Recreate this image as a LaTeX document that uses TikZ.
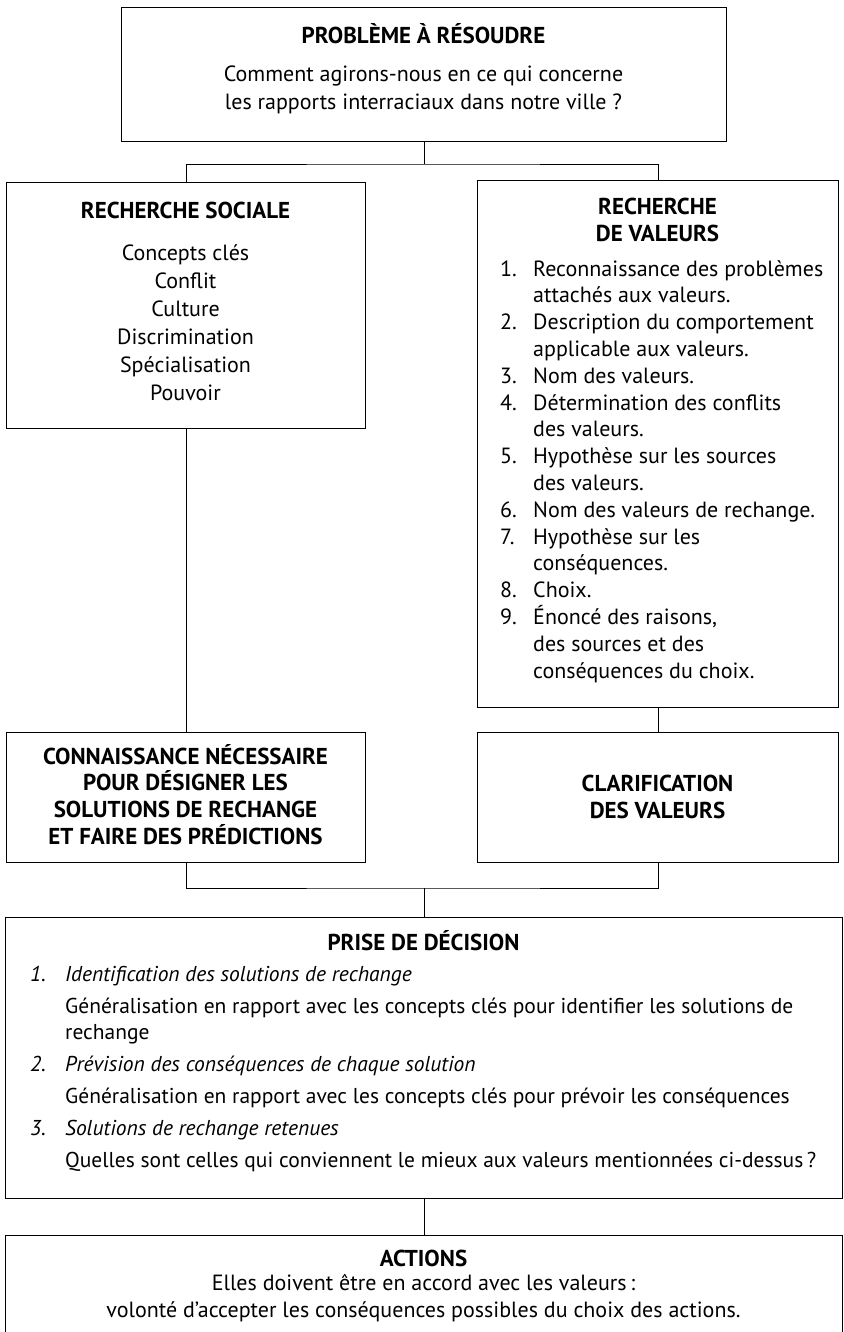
\documentclass[tikz,border=0pt]{standalone}
\usepackage{fontspec}
\setmainfont{PT Sans}
\usetikzlibrary{positioning}

\tikzset{
  boite/.style={draw, line width=1pt, inner sep=0pt, anchor=north west},
  titre/.style={font=\fontsize{23}{27}\selectfont\bfseries, align=center, inner sep=0pt, anchor=north},
  texte/.style={font=\fontsize{22}{28}\selectfont, align=center, inner sep=0pt, anchor=north},
  liste/.style={font=\fontsize{22}{26.8}\selectfont, align=left, inner sep=0pt, anchor=north west},
  lien/.style={line width=0.7pt},
}
\newcommand{\numero}[1]{\makebox[33pt][l]{#1}}
\newcommand{\retrait}{\hspace*{33pt}}

\begin{document}
\begin{tikzpicture}[x=1pt, y=-1pt]
  \clip (0,0) rectangle (843,1332);
  \fill[white] (0,0) rectangle (843,1332);

  % boites
  \node[boite, minimum width=605, minimum height=134] (prob) at (121,7) {};
  \node[boite, minimum width=359, minimum height=246] (soc) at (6,182) {};
  \node[boite, minimum width=361, minimum height=527] (val) at (477,180) {};
  \node[boite, minimum width=359, minimum height=130] (conn) at (6,732) {};
  \node[boite, minimum width=361, minimum height=130] (clar) at (477,732) {};
  \node[boite, minimum width=837, minimum height=281] (dec) at (5,917) {};
  \node[boite, minimum width=837, minimum height=120] (act) at (5,1235) {};

  % textes
  \node[titre] (probtitre) at (423.5,23) {PROBLÈME À RÉSOUDRE};
  \node[texte] (probtexte) at (423.5,65.5) {Comment agirons-nous en ce qui concerne\\les rapports interraciaux dans notre ville ?};

  \node[titre] (soctitre) at (185.5,202) {RECHERCHE SOCIALE};
  \node[texte] (soctexte) at (185.5,244) {Concepts clés\\Conflit\\Culture\\Discrimination\\Spécialisation\\Pouvoir};

  \node[titre] (valtitre) at (657.5,198) {RECHERCHE\\DE VALEURS};
  \node[liste] (valtexte) at (500,260) {%
    \numero{1.}Reconnaissance des problèmes\\
    \retrait attachés aux valeurs.\\
    \numero{2.}Description du comportement\\
    \retrait applicable aux valeurs.\\
    \numero{3.}Nom des valeurs.\\
    \numero{4.}Détermination des conflits\\
    \retrait des valeurs.\\
    \numero{5.}Hypothèse sur les sources\\
    \retrait des valeurs.\\
    \numero{6.}Nom des valeurs de rechange.\\
    \numero{7.}Hypothèse sur les\\
    \retrait conséquences.\\
    \numero{8.}Choix.\\
    \numero{9.}Énoncé des raisons,\\
    \retrait des sources et des\\
    \retrait conséquences du choix.};

  \node[titre, font=\fontsize{23}{26.7}\selectfont\bfseries] (conntexte) at (185.5,744) {CONNAISSANCE NÉCESSAIRE\\POUR DÉSIGNER LES\\SOLUTIONS DE RECHANGE\\ET FAIRE DES PRÉDICTIONS};
  \node[titre] (clartexte) at (657.5,775) {CLARIFICATION\\DES VALEURS};

  \node[titre] (dectitre) at (423.5,930) {PRISE DE DÉCISION};
  \node[liste, font=\fontsize{21.5}{26}\selectfont] (dectexte) at (30,966) {%
    \makebox[35pt][l]{\itshape 1.}\textit{Identification des solutions de rechange}\\[6pt]
    \hspace*{35pt}Généralisation en rapport avec les concepts clés pour identifier les solutions de\\
    \hspace*{35pt}rechange\\[6pt]
    \makebox[35pt][l]{\itshape 2.}\textit{Prévision des conséquences de chaque solution}\\[6pt]
    \hspace*{35pt}Généralisation en rapport avec les concepts clés pour prévoir les conséquences\\[6pt]
    \makebox[35pt][l]{\itshape 3.}\textit{Solutions de rechange retenues}\\[6pt]
    \hspace*{35pt}Quelles sont celles qui conviennent le mieux aux valeurs mentionnées ci-dessus\,?};

  \node[titre] (acttitre) at (423.5,1250) {ACTIONS};
  \node[texte, font=\fontsize{22}{27}\selectfont] (acttexte) at (423.5,1274) {Elles doivent être en accord avec les valeurs\,:\\volonté d’accepter les conséquences possibles du choix des actions.};

  % liens
  \path (prob.south) ++(0,22) coordinate (haut);
  \draw[lien] (prob.south) -- (haut);
  \draw[lien] (soc.north) |- (haut) -| (val.north);
  \draw[lien] (soc.south) -- (conn.north);
  \draw[lien] (val.south) -- (clar.north);
  \path (dec.north) ++(0,-29) coordinate (bas);
  \draw[lien] (conn.south) |- (bas) -| (clar.south);
  \draw[lien] (bas) -- (dec.north);
  \draw[lien] (dec.south) -- (act.north);
\end{tikzpicture}
\end{document}
